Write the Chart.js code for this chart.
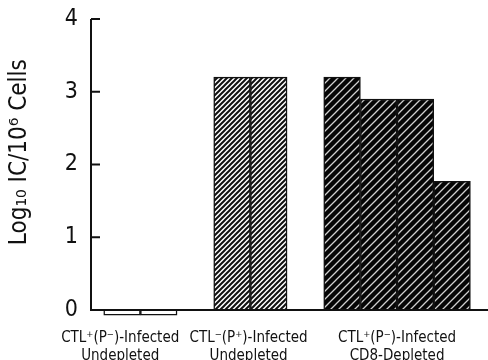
<!DOCTYPE html>
<html>
<head>
<meta charset="utf-8">
<script src="https://cdn.jsdelivr.net/npm/chart.js@4/dist/chart.umd.min.js"></script>
<style>
  body { margin: 0; background: #fff; }
  #wrap { width: 488px; height: 360px; }
</style>
</head>
<body>
<div id="wrap"><canvas id="c"></canvas></div>
<script>
// bar positions (slots)
let slots = [1, 2, 4, 5, 7, 8, 9, 10];
let values = [-0.07, -0.07, 3.2, 3.2, 3.2, 2.9, 2.9, 1.77];
let groupOf = [0, 0, 1, 1, 2, 2, 2, 2];
let groupPos = [0.95, 4.45, 8.5];
let groupLabels = [
    ['CTL\u207A(P\u207B)-Infected', 'Undepleted'],
    ['CTL\u207B(P\u207A)-Infected', 'Undepleted'],
    ['CTL\u207A(P\u207B)-Infected', 'CD8-Depleted']
];
let yTicks = [0, 1, 2, 3, 4];

let font = "'DejaVu Sans Condensed', 'Liberation Sans Narrow', sans-serif";

function hatch(bg, fg, size, lw) {
    let c = document.createElement('canvas');
    c.width = size; c.height = size;
    let g = c.getContext('2d');
    g.fillStyle = bg;
    g.fillRect(0, 0, size, size);
    g.strokeStyle = fg;
    g.lineWidth = lw;
    g.beginPath();
    g.moveTo(-1, size + 1); g.lineTo(size + 1, -1);
    g.moveTo(-1, 1); g.lineTo(1, -1);
    g.moveTo(size - 1, size + 1); g.lineTo(size + 1, size - 1);
    g.stroke();
    return g.createPattern(c, 'repeat');
}

let fills = [
    '#ffffff',
    hatch('#ffffff', '#111111', 5, 2),
    hatch('#050505', '#cfcfcf', 8, 1.3)
];

// draws axis lines and inner tick marks through the scales
let axesPlugin = {
    id: 'axes',
    afterDatasetsDraw(chart) {
        let ctx = chart.ctx;
        let y = chart.scales.y;
        let area = chart.chartArea;
        let x0 = area.left;
        let top = y.getPixelForValue(4);
        let base = y.getPixelForValue(0);
        ctx.save();
        ctx.strokeStyle = '#111';
        ctx.lineWidth = 2;
        ctx.beginPath();
        ctx.moveTo(x0, top);
        ctx.lineTo(x0, base);
        ctx.moveTo(x0 - 1, base);
        ctx.lineTo(area.right, base);
        for (let i = 1; i < yTicks.length; i++) {
            let py = y.getPixelForValue(yTicks[i]);
            ctx.moveTo(x0, py);
            ctx.lineTo(x0 + 9, py);
        }
        ctx.stroke();
        ctx.restore();
    }
};

new Chart(document.getElementById('c'), {
    type: 'bar',
    data: {
        datasets: [{
            data: slots.map((s, i) => ({x: s, y: values[i]})),
            backgroundColor: groupOf.map(g => fills[g]),
            borderColor: '#111',
            borderWidth: 1.5,
            barPercentage: 1,
            categoryPercentage: 1
        }]
    },
    options: {
        responsive: true,
        maintainAspectRatio: false,
        animation: false,
        layout: { padding: 0 },
        plugins: {
            legend: { display: false },
            tooltip: { enabled: false }
        },
        scales: {
            x: {
                type: 'linear',
                offset: false,
                min: 0.153,
                max: 10.98,
                grid: { display: false, offset: false },
                border: { display: false },
                afterBuildTicks: s => { s.ticks = groupPos.map(v => ({value: v})); },
                afterFit: s => { s.height = 42; s.paddingLeft = 0; s.paddingRight = 0; },
                ticks: {
                    autoSkip: false,
                    maxRotation: 0,
                    padding: 3,
                    color: '#111',
                    font: { family: font, size: 15, lineHeight: 1.2 },
                    callback: (v, i) => groupLabels[i]
                }
            },
            y: {
                min: -0.11,
                max: 4.261,
                grid: { display: false, drawTicks: false },
                border: { display: false },
                afterBuildTicks: s => { s.ticks = yTicks.map(v => ({value: v})); },
                afterFit: s => { s.width = 91; s.paddingTop = 0; s.paddingBottom = 0; },
                ticks: {
                    padding: 13,
                    color: '#111',
                    font: { family: font, size: 23 }
                },
                title: {
                    display: true,
                    text: '  Log\u2081\u2080 IC/10\u2076 Cells',
                    color: '#111',
                    padding: { top: 5 },
                    font: { family: font, size: 24 }
                }
            }
        }
    },
    plugins: [axesPlugin]
});
</script>
</body>
</html>
